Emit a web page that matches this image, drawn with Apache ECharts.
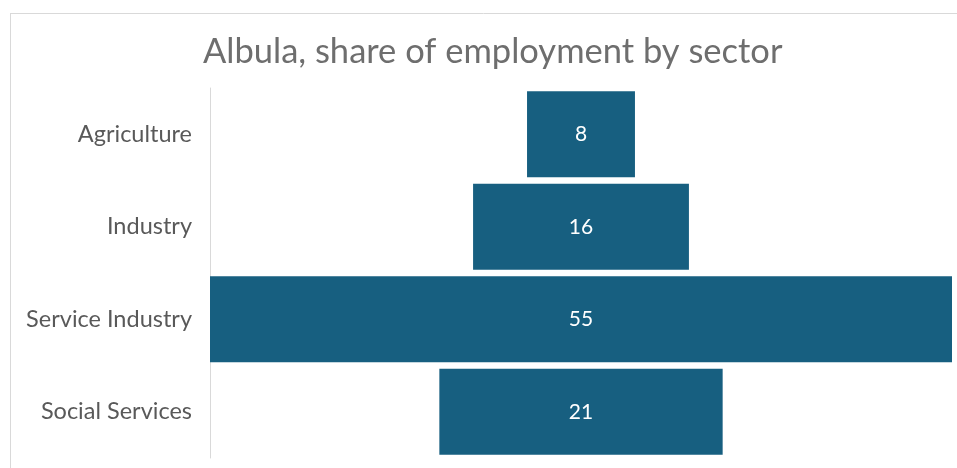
<!DOCTYPE html>
<html><head><meta charset="utf-8">
<style>html,body{margin:0;padding:0;background:#fff}#c{width:957px;height:468px}</style>
<script src="https://cdn.jsdelivr.net/npm/echarts@6/dist/echarts.min.js"></script>
</head><body><div id="c"></div>
<script>
const categories = ['Agriculture', 'Industry', 'Service Industry', 'Social Services'];
const shares = [8, 16, 55, 21];
const maxShare = 55;

const offsets = shares.map(v => (maxShare - v) / 2);
const chart = echarts.init(document.getElementById('c'));
chart.setOption({
  animation: false,
  title: {
    text: 'Albula, share of employment by sector',
    left: 198, top: 29,
    textStyle: { fontFamily: 'Lato', fontWeight: 'normal', fontSize: 34.5, color: '#6e6e6e' }
  },
  graphic: [
    { type: 'line', shape: { x1: 10, y1: 13.5, x2: 957, y2: 13.5 }, style: { stroke: '#d9d9d9', lineWidth: 1 } },
    { type: 'line', shape: { x1: 10.5, y1: 13, x2: 10.5, y2: 468 }, style: { stroke: '#d9d9d9', lineWidth: 1 } }
  ],
  grid: { left: 210, right: 5, top: 88, bottom: 10 },
  xAxis: { type: 'value', min: 0, max: maxShare, show: false },
  yAxis: {
    type: 'category', data: categories, inverse: true,
    axisLine: { show: true, lineStyle: { color: '#d9d9d9', width: 1 } },
    axisTick: { show: false },
    axisLabel: { fontFamily: 'Lato', fontSize: 23.5, color: '#595959', margin: 18 }
  },
  series: [
    { type: 'bar', stack: 's', data: offsets, itemStyle: { color: 'transparent' }, barCategoryGap: '7%', silent: true },
    { type: 'bar', stack: 's', data: shares, barCategoryGap: '7%',
      itemStyle: { color: '#175f80' },
      label: { show: true, position: 'inside', color: '#fff', fontFamily: 'Lato', fontSize: 21 } }
  ]
});
</script></body></html>
